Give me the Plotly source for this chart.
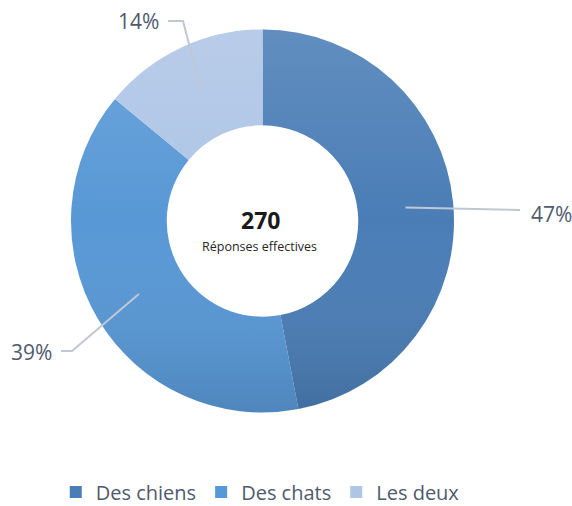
import math
import base64
import plotly.graph_objects as go

# ---- data ----
labels = ["Des chiens", "Des chats", "Les deux"]
values = [47, 39, 14]
pct_labels = ["47%", "39%", "14%"]
center_value = "270"
center_caption = "Réponses effectives"

# ---- style ----
colors = ["#4a7db6", "#5898d6", "#aec5e6"]
text_color = "#4f5a6d"
line_color = "#bfc8d4"
FONT = "Open Sans"

W, H = 572, 506
CX, CY = 262.5, 221.0     # pie centre in pixels
R_OUT = 191.5
HOLE = 0.5
R_MID = R_OUT * (1 + HOLE) / 2


def px(x):
    return x / W


def py(y):
    return 1 - y / H


# label anchor (pixel) and elbow points per slice
label_style = [
    dict(anchor=(529, 213.5), xanchor="left", elbow=[(520, 210)]),
    dict(anchor=(54, 352), xanchor="right", elbow=[(72, 351), (61, 351)]),
    dict(anchor=(161, 21), xanchor="right", elbow=[(183, 21), (168, 21)]),
]

fig = go.Figure()
fig.add_trace(go.Pie(
    labels=labels,
    values=values,
    hole=HOLE,
    sort=False,
    direction="clockwise",
    rotation=0,
    textinfo="none",
    hoverinfo="label+percent",
    marker=dict(colors=colors, line=dict(width=0)),
    domain=dict(x=[px(CX - R_OUT), px(CX + R_OUT)],
                y=[py(CY + R_OUT), py(CY - R_OUT)]),
    showlegend=True,
))

# leader lines computed from slice mid-angles
shapes = []
annotations = []
total = sum(values)
cum = 0
for v, txt, st in zip(values, pct_labels, label_style):
    mid = (cum + v / 2) / total * 2 * math.pi
    cum += v
    sx = CX + R_MID * math.sin(mid)
    sy = CY - R_MID * math.cos(mid)
    pts = [(sx, sy)] + st["elbow"]
    path = "M " + " L ".join(f"{px(x):.5f},{py(y):.5f}" for x, y in pts)
    shapes.append(dict(type="path", xref="paper", yref="paper", path=path,
                       line=dict(color=line_color, width=2), layer="above"))
    ax, ay = st["anchor"]
    annotations.append(dict(x=px(ax), y=py(ay), xref="paper", yref="paper",
                            text=txt, showarrow=False, xanchor=st["xanchor"],
                            yanchor="middle",
                            font=dict(family=FONT, size=21, color=text_color)))

annotations.append(dict(x=px(CX - 2), y=py(220), xref="paper", yref="paper",
                        text=f"<b>{center_value}</b>", showarrow=False,
                        xanchor="center", yanchor="middle",
                        font=dict(family=FONT, size=23, color="#1a1a1a")))
annotations.append(dict(x=px(CX - 3), y=py(246), xref="paper", yref="paper",
                        text=center_caption, showarrow=False,
                        xanchor="center", yanchor="middle",
                        font=dict(family=FONT, size=12.5, color="#262626")))

# subtle vertical shading over the ring (light top, darker bottom)
svg = f'''<svg xmlns="http://www.w3.org/2000/svg" width="200" height="200" viewBox="0 0 200 200" preserveAspectRatio="none">
<defs><linearGradient id="g" x1="0" y1="0" x2="0" y2="1">
<stop offset="0" stop-color="#ffffff" stop-opacity="0.13"/>
<stop offset="0.5" stop-color="#ffffff" stop-opacity="0"/>
<stop offset="1" stop-color="#000000" stop-opacity="0.12"/>
</linearGradient></defs>
<path fill="url(#g)" fill-rule="evenodd" d="M100,0 A100,100 0 1,1 99.99,0 Z M100,{100-100*HOLE} A{100*HOLE},{100*HOLE} 0 1,0 100.01,{100-100*HOLE} Z"/>
</svg>'''
src = "data:image/svg+xml;base64," + base64.b64encode(svg.encode()).decode()

fig.update_layout(
    width=W, height=H,
    autosize=False,
    margin=dict(l=0, r=0, t=0, b=0, autoexpand=False),
    paper_bgcolor="white",
    plot_bgcolor="white",
    font=dict(family=FONT, color=text_color),
    shapes=shapes,
    annotations=annotations,
    images=[dict(source=src, xref="paper", yref="paper",
                 x=px(CX - R_OUT), y=py(CY - R_OUT),
                 sizex=2 * R_OUT / W, sizey=2 * R_OUT / H,
                 xanchor="left", yanchor="top", sizing="stretch",
                 layer="above", opacity=1)],
    legend=dict(orientation="h", x=0.455, xanchor="center",
                y=py(492), yanchor="middle",
                font=dict(family=FONT, size=20, color=text_color),
                itemclick=False, itemdoubleclick=False),
)

fig.write_html("out.html",
               config={"displayModeBar": False},
               post_script="document.body.style.margin='0';"
                           "document.body.style.overflow='hidden';")
